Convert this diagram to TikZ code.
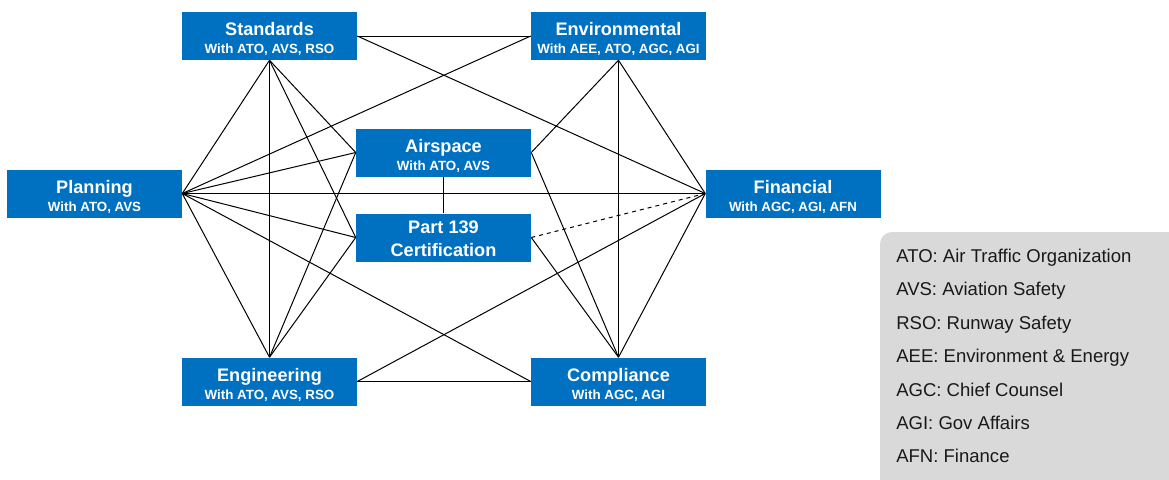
\documentclass[tikz,border=0pt]{standalone}
\usepackage{fontspec}
\setmainfont{Liberation Sans}
\definecolor{faablue}{HTML}{0070C0}
\definecolor{keygray}{HTML}{D9D9D9}
\newcommand{\ttlfont}{\fontsize{13.6}{13.5}\selectfont\bfseries}
\newcommand{\ttl}[1]{{\ttlfont\rule{0pt}{14.5pt}#1}}
\begin{document}
\begin{tikzpicture}[x=0.75pt, y=-0.75pt,
    office/.style={fill=faablue, text=white, minimum width=131.25pt, minimum height=36pt,
      inner sep=0pt, align=center, font=\fontsize{10}{13.5}\selectfont\bfseries},
    link/.style={line width=0.75pt}]
  \useasboundingbox (0,0) rectangle (1169,479);
  % the offices
  \node [office] (std) at (269.5,36) {\ttl{Standards}\\With ATO, AVS, RSO};
  \node [office] (env) at (618.5,36) {\ttl{Environmental}\\With AEE, ATO, AGC, AGI};
  \node [office] (pln) at (94.5,193.5) {\ttl{Planning}\\With ATO, AVS};
  \node [office] (fin) at (793,193.5) {\ttl{Financial}\\With AGC, AGI, AFN};
  \node [office] (air) at (443.5,152.5) {\ttl{Airspace}\\With ATO, AVS};
  \node [office, font=\fontsize{13.6}{17}\selectfont\bfseries] (p139) at (443.5,237.5)
    {\rule{0pt}{11pt}Part 139\\Certification};
  \node [office] (eng) at (269.5,381.5) {\ttl{Engineering}\\With ATO, AVS, RSO};
  \node [office] (cmp) at (618.5,381.5) {\ttl{Compliance}\\With AGC, AGI};
  % links
  \draw [link] (std.east) -- (env.west);
  \draw [link] (std.east) -- (fin.west);
  \draw [link] (env.west) -- (pln.east);
  \draw [link] (std.south) -- (pln.east);
  \draw [link] (std.south) -- (eng.north);
  \draw [link] (std.south) -- (air.west);
  \draw [link] (std.south) -- (p139.west);
  \draw [link] (env.south) -- (air.east);
  \draw [link] (env.south) -- (cmp.north);
  \draw [link] (env.south) -- (fin.west);
  \draw [link] (pln.east) -- (air.west);
  \draw [link] (pln.east) -- (fin.west);
  \draw [link] (pln.east) -- (p139.west);
  \draw [link] (pln.east) -- (cmp.west);
  \draw [link] (pln.east) -- (eng.north);
  \draw [link] (eng.north) -- (air.west);
  \draw [link] (eng.north) -- (p139.west);
  \draw [link] (eng.east) -- (cmp.west);
  \draw [link] (eng.east) -- (fin.west);
  \draw [link] (cmp.north) -- (air.east);
  \draw [link] (cmp.north) -- (p139.east);
  \draw [link] (cmp.north) -- (fin.west);
  \draw [link] (air.south) -- (p139.north);
  \draw [link, dashed] (p139.east) -- (fin.west);
  % key
  \begin{scope}
    \clip (0,0) rectangle (1169,479);
    \fill [keygray, rounded corners=9pt] (880,232) rectangle (1190,500);
  \end{scope}
  \foreach \ab [count=\i] in {ATO: Air Traffic Organization, AVS: Aviation Safety,
      RSO: Runway Safety, AEE: Environment \& Energy, AGC: Chief Counsel,
      AGI: Gov Affairs, AFN: Finance}
    \node [anchor=base west, inner sep=0pt, text=black!90, font=\fontsize{13.9}{16}\selectfont]
      (key\i) at (896,{262.5+33.4*(\i-1)}) {\ab};
\end{tikzpicture}
\end{document}
